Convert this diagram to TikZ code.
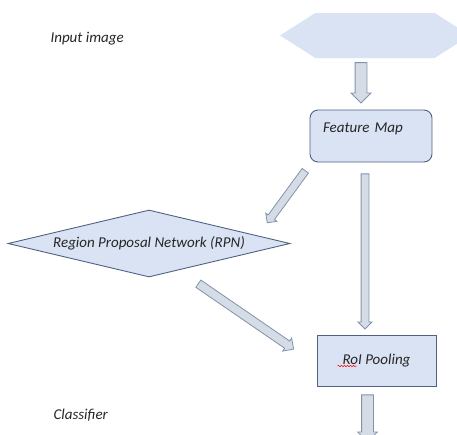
\documentclass[tikz,border=0pt]{standalone}
\usepackage{fontspec}
\setmainfont{Carlito}
\usetikzlibrary{shapes.geometric,shapes.arrows,shapes.symbols,calc,decorations.pathmorphing}
\definecolor{boxfill}{HTML}{DAE3F3}
\definecolor{boxline}{HTML}{4F6282}
\definecolor{arrfill}{HTML}{D6DCE5}
\definecolor{arrline}{HTML}{7F93AE}
% block arrow: from, to, half shaft width, head extend
\newcommand{\blockarr}[4]{%
	\path let \p1=(#1), \p2=(#2), \n1={atan2(\y2-\y1,\x2-\x1)}, \n2={veclen(\x2-\x1,\y2-\y1)} in
		node[fatarrow, inner ysep=#3, single arrow head extend=#4, minimum height=\n2, rotate=\n1, anchor=tail] at (\p1) {};}

\begin{document}
\begin{tikzpicture}[x=1pt,y=-1pt,
		every node/.style={font=\fontsize{15}{17}\selectfont\itshape, text=black!85},
		box/.style={draw=boxline, fill=boxfill, line width=0.9pt},
		fatarrow/.style={single arrow, draw=arrline, fill=arrfill, line width=0.8pt, inner xsep=0pt, minimum width=0pt, single arrow tip angle=90, font=\tiny}]
			\useasboundingbox (0,0) rectangle (457,434);
			\clip (0,0) rectangle (457,434);
			\node (img) [signal, signal to=west and east, signal pointer angle=65, fill=boxfill, minimum width=190pt, minimum height=45pt] at (375,35.5) {};
			\node (fm) [box, rounded corners=8pt, minimum width=122pt, minimum height=52pt, text width=96pt, align=left, text height=10pt, text depth=18pt] at (371,136) {Feature Map};
			\node (rpn) [box, diamond, aspect=4.2, minimum width=282pt, minimum height=67pt, inner sep=0pt] at (149,243.5) {Region Proposal Network (RPN)};
			\node (roi) [box, minimum width=119pt, minimum height=51pt] at (376.5,360.5) {RoI Pooling};
			\node (inp) [anchor=base west] at (47,42) {Input image};
			\node (cls) [anchor=base west] at (50,419) {Classifier};
			\draw[red, line width=0.5pt, decorate, decoration={snake, amplitude=0.7pt, segment length=3pt}] ($(roi.center)+(-39,5.5)$) -- ($(roi.center)+(-20,5.5)$);
			\blockarr{$(img.south)+(-14,4)$}{$(fm.north)+(-10,-7)$}{5.5pt}{4pt}
			\blockarr{$(fm.south)+(-6,11)$}{$(roi.north)+(-11.5,-6)$}{3.5pt}{3pt}
			\blockarr{$(fm.south west)+(-4,8)$}{$(rpn.east)+(-23,-21)$}{3.5pt}{3pt}
			\blockarr{$(rpn.south)+(49,6)$}{$(roi.west)+(-23,-11.5)$}{4pt}{3.5pt}
			\blockarr{$(roi.south)+(-9,8)$}{$(roi.south)+(-9,55)$}{5.5pt}{4pt}
		\end{tikzpicture}
\end{document}
